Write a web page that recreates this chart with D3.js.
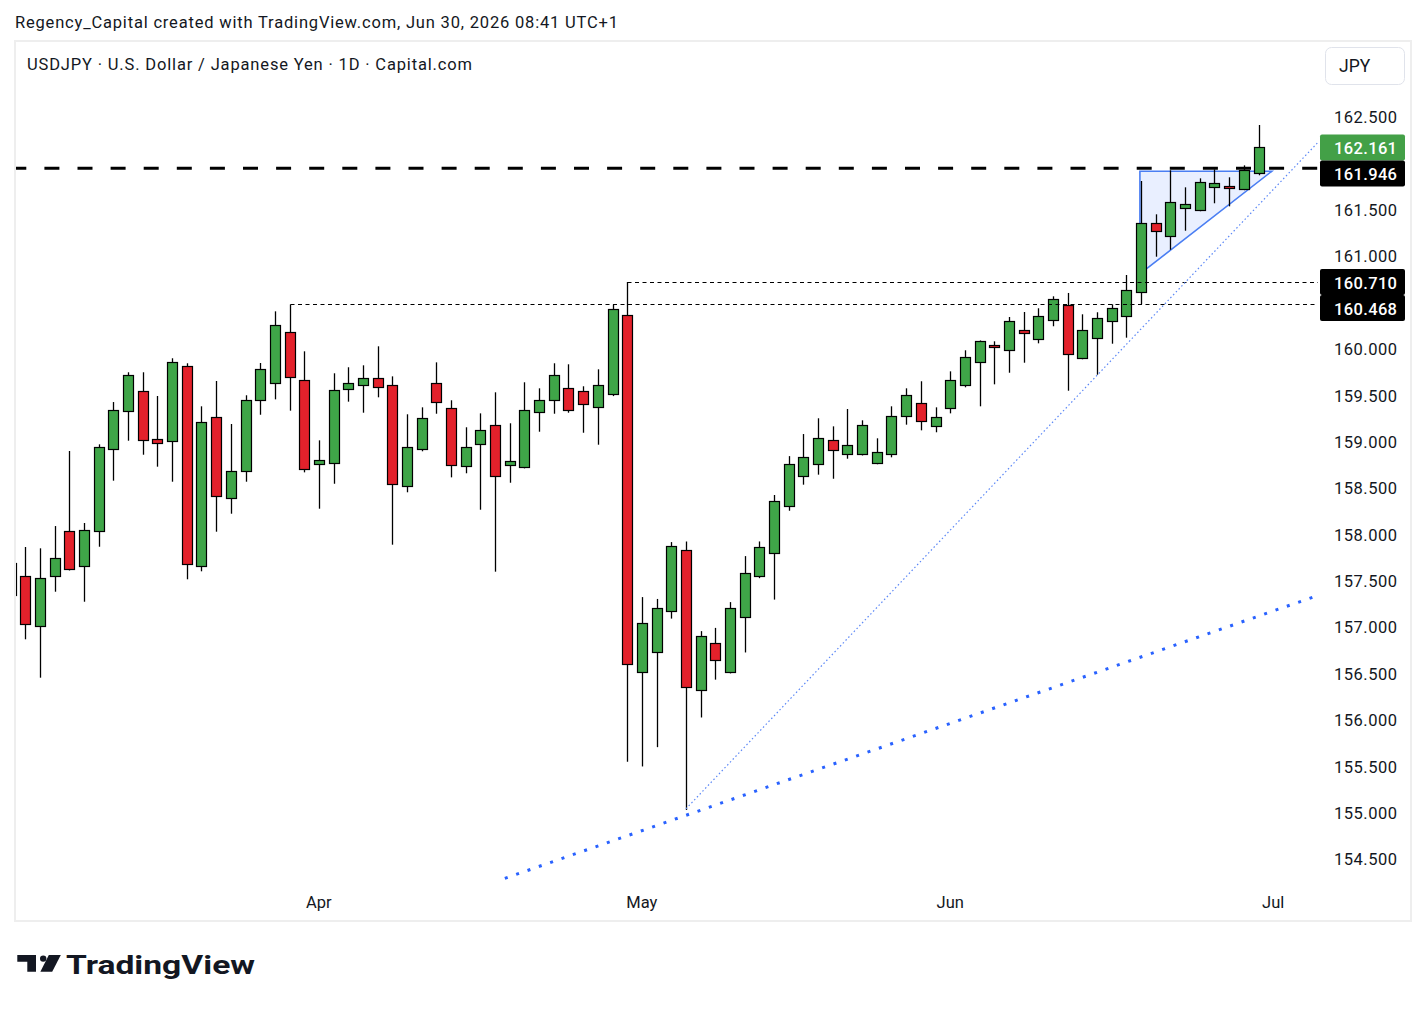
<!DOCTYPE html>
<html><head><meta charset="utf-8">
<script src="https://cdn.jsdelivr.net/npm/d3@7"></script>
<style>body{margin:0;background:#fff}svg{display:block;font-family:Roboto,"Noto Sans",sans-serif}</style>
</head><body><svg id="c" width="1427" height="1012"></svg>
<script>
// ---- data (USDJPY daily, Mar 3 – Jun 30 2026) ----
const openP  = [157.34,157.537,156.998,157.537,158.022,157.645,158.022,158.906,159.316,159.532,159.014,158.993,159.801,157.645,159.251,158.378,158.669,159.435,159.618,160.168,159.650,
  158.745,158.755,159.553,159.596,159.672,159.596,158.507,158.906,159.618,159.348,158.723,158.960,159.165,158.734,158.712,159.305,159.435,159.564,159.532,159.359,159.499,160.350,
  156.504,156.716,157.159,157.816,156.307,156.816,156.504,157.097,157.536,157.786,158.298,158.615,158.745,159.003,158.852,158.852,158.755,158.852,159.262,159.402,159.154,
  159.348,159.596,159.844,160.031,159.974,160.189,160.092,160.297,160.459,159.888,160.103,160.286,160.340,160.599,161.343,161.203,161.505,161.483,161.731,161.742,161.710,161.882];
const highP  = [157.70,157.853,157.839,158.079,158.888,158.112,158.960,159.416,159.737,159.737,159.481,159.888,159.834,159.370,159.643,159.179,159.489,159.837,160.394,160.468,159.963,
  159.003,159.726,159.791,159.812,160.017,159.693,159.284,159.359,159.844,159.435,159.144,159.294,159.521,159.187,159.629,159.564,159.834,159.823,159.586,159.769,160.468,160.710,
  157.313,157.293,157.906,157.913,156.946,156.981,157.259,157.755,157.913,158.414,158.833,159.071,159.241,159.154,159.341,159.219,159.025,159.370,159.564,159.640,159.359,
  159.747,159.974,160.080,160.071,160.333,160.387,160.427,160.556,160.592,160.362,160.384,160.470,160.786,161.799,161.440,161.915,161.731,161.828,161.925,161.839,161.968,162.403];
const lowP   = [157.30,156.858,156.444,157.371,157.600,157.263,157.856,158.568,158.999,158.848,158.719,158.557,157.505,157.591,158.018,158.212,158.557,159.279,159.445,159.323,158.658,
  158.266,158.535,159.420,159.301,159.467,157.878,158.443,158.885,159.290,158.604,158.648,158.255,157.587,158.546,158.701,159.096,159.290,159.301,159.085,158.956,159.480,155.537,
  155.487,155.695,157.081,155.017,156.015,156.423,156.490,156.716,157.517,157.286,158.244,158.525,158.633,158.589,158.805,158.840,158.745,158.820,159.172,159.111,159.090,
  159.294,159.575,159.370,159.607,159.732,159.840,160.049,160.233,159.538,159.877,159.711,160.045,160.110,160.470,160.983,161.058,161.263,161.473,161.559,161.526,161.700,161.861];
const closeP = [157.68,157.020,157.516,157.731,157.612,158.033,158.928,159.327,159.704,159.003,158.971,159.844,157.666,159.198,158.400,158.669,159.435,159.769,160.243,159.683,158.691,
  158.788,159.543,159.618,159.672,159.575,158.529,158.928,159.241,159.413,158.734,158.928,159.111,158.615,158.777,159.327,159.435,159.704,159.327,159.392,159.596,160.416,156.588,
  157.031,157.193,157.863,156.342,156.892,156.630,157.196,157.571,157.852,158.345,158.745,158.820,159.025,158.896,158.950,159.165,158.874,159.262,159.489,159.208,159.251,
  159.650,159.898,160.071,160.007,160.286,160.157,160.340,160.524,159.931,160.189,160.319,160.427,160.621,161.343,161.257,161.570,161.548,161.785,161.774,161.720,161.915,162.161];

const priceTicks = [154.5,155,155.5,156,156.5,157,157.5,158,158.5,159,159.5,160,160.5,161,161.5,162,162.5];
const monthTickDates = [new Date(2026,3,1), new Date(2026,4,1), new Date(2026,5,1), new Date(2026,6,1)];
const monthTickLabels = ["Apr","May","Jun","Jul"];

// price-scale markers
const markerValues = [162.161, 161.946, 160.710, 160.468];
const markerColors = ["#43a047", "#000000", "#000000", "#000000"];

// drawings (bar index, price)
const resistanceLevel = 161.946;
const rayLevels = [[19,160.468],[42,160.710]];
const thinTrend  = [[46,155.03],[85,161.54]];
const thickTrend = [[33.6,154.277],[46,154.96]];
const triangle = [[76.92,161.904],[76.92,160.797],[85.9,161.904]];

// ---- layout ----
const svg = d3.select("#c");
const dates = d3.timeDay.range(new Date(2026,2,3), new Date(2026,6,10)).filter(d => d.getDay()%6 !== 0);
const idxOf = dt => dates.findIndex(d => +d === +dt);
const bars = d3.range(openP.length);

const L = 15, R = 1318, T = 42, B = 882;
const x = d3.scaleLinear().domain([0.3, 89.05]).range([L, R]);
const y = d3.scaleLinear().domain([154.5, 162.5]).range([858, 116]);

svg.append("rect").attr("width",1427).attr("height",1012).attr("fill","#fff");
svg.append("text").attr("x",15).attr("y",27.5).attr("font-size",16.5).attr("fill","#131722")
  .attr("textLength",603).attr("lengthAdjust","spacing")
  .text("Regency_Capital created with TradingView.com, Jun 30, 2026 08:41 UTC+1");
svg.append("rect").attr("x",15).attr("y",41).attr("width",1396).attr("height",880)
  .attr("fill","none").attr("stroke","#eeeeee").attr("stroke-width",2);

svg.append("defs").append("clipPath").attr("id","plot").append("rect")
  .attr("x",L+1).attr("y",T).attr("width",R-L-1).attr("height",B-T);
const plot = svg.append("g").attr("clip-path","url(#plot)");

const line = d3.line().x(d=>x(d[0])).y(d=>y(d[1]));
const extend = (p, toX) => { const s=(p[1][1]-p[0][1])/(p[1][0]-p[0][0]); return [p[0],[toX, p[0][1]+s*(toX-p[0][0])]]; };
const xMax = x.invert(R+2);

// triangle (behind candles)
plot.append("path").attr("d", line(triangle)+"Z")
  .attr("fill","rgba(41,98,255,0.1)").attr("stroke","#4a7ef3").attr("stroke-width",1.6).attr("stroke-linejoin","miter");

// candles
const up = i => closeP[i] >= openP[i];
const cx = i => Math.round(x(i));
plot.selectAll("line.wick").data(bars).join("line").attr("class","wick")
  .attr("x1", i=>cx(i)+0.5).attr("x2", i=>cx(i)+0.5)
  .attr("y1", i=>y(highP[i])).attr("y2", i=>y(lowP[i]))
  .attr("stroke","#000").attr("stroke-width",1.3);
plot.selectAll("rect.body").data(bars).join("rect").attr("class","body")
  .attr("x", i=>cx(i)-4.5).attr("width",10)
  .attr("y", i=>Math.round(y(Math.max(openP[i],closeP[i])))+0.5)
  .attr("height", i=>Math.max(2, Math.round(y(Math.min(openP[i],closeP[i])))-Math.round(y(Math.max(openP[i],closeP[i])))))
  .attr("fill", i=> up(i) ? "#3fa548" : "#e3212b")
  .attr("stroke","#000").attr("stroke-width",1.2);

// horizontal rays
plot.selectAll("line.ray").data(rayLevels).join("line").attr("class","ray")
  .attr("x1", d=>cx(d[0])+0.5).attr("x2", R).attr("y1", d=>Math.round(y(d[1]))+0.5).attr("y2", d=>Math.round(y(d[1]))+0.5)
  .attr("stroke","#000").attr("stroke-width",1).attr("stroke-dasharray","4 3.5");

// thick dashed resistance
plot.append("line").attr("x1",L).attr("x2",R).attr("y1",y(resistanceLevel)+0.8).attr("y2",y(resistanceLevel)+0.8)
  .attr("stroke","#000").attr("stroke-width",3).attr("stroke-dasharray","15 18.1").attr("stroke-dashoffset",3.7);

// trendlines
plot.append("path").attr("d", line(extend(thinTrend, xMax))).attr("fill","none")
  .attr("stroke","#5b87f6").attr("stroke-width",1.2).attr("stroke-dasharray","1.5 2.5");
plot.append("path").attr("d", line(extend(thickTrend, xMax))).attr("fill","none")
  .attr("stroke","#2962ff").attr("stroke-width",3).attr("stroke-dasharray","3 9").attr("stroke-dashoffset",-1);

// header
svg.append("text").attr("x",27).attr("y",70).attr("font-size",16.5).attr("fill","#131722")
  .attr("textLength",445).attr("lengthAdjust","spacing")
  .text("USDJPY · U.S. Dollar / Japanese Yen · 1D · Capital.com");
svg.append("rect").attr("x",1325.5).attr("y",47.5).attr("width",79).attr("height",37).attr("rx",6)
  .attr("fill","#fff").attr("stroke","#e0e3eb");
svg.append("text").attr("x",1339).attr("y",72).attr("font-size",17.5).attr("fill","#131722").text("JPY");

// price axis labels
const markerCenters = [];
markerValues.forEach((v,k) => {
  let c = y(v);
  if (k>0 && c < markerCenters[k-1] + 26 && c > markerCenters[k-1] - 26) c = markerCenters[k-1] + 26;
  markerCenters.push(c);
});
const fmt = d3.format(".3f");
svg.append("g").selectAll("text").data(priceTicks.filter(t => markerCenters.every(c => Math.abs(y(t)-c) > 22)))
  .join("text").attr("x",1334).attr("y", t=>y(t)+7.3)
  .attr("textLength",63).attr("lengthAdjust","spacing")
  .attr("font-size",16.5).attr("fill","#131722").text(t=>fmt(t));
const mk = svg.append("g").selectAll("g").data(markerValues.map((v,k)=>k)).join("g");
mk.append("rect").attr("x",1320).attr("width",85).attr("y",k=>markerCenters[k]-13).attr("height",26)
  .attr("rx",2).attr("fill",k=>markerColors[k]);
mk.append("text").attr("x",1334).attr("y",k=>markerCenters[k]+6.5)
  .attr("textLength",63).attr("lengthAdjust","spacing")
  .attr("font-size",16.5).attr("font-weight",500).attr("fill","#fff").text(k=>fmt(markerValues[k]));

// time axis
svg.append("g").selectAll("text").data(monthTickDates).join("text")
  .attr("x", d=>x(idxOf(d))).attr("y",908).attr("text-anchor","middle")
  .attr("font-size",16.5).attr("fill","#131722").text((d,k)=>monthTickLabels[k]);

// TradingView logo
const logo = svg.append("g").attr("fill","#131722");
logo.append("path").attr("d","M17.3,955 H36 V971.7 H27.3 V961.7 H17.3 Z");
logo.append("circle").attr("cx",43.2).attr("cy",958.6).attr("r",3.2);
logo.append("path").attr("d","M48.8,955 H60.8 L52.2,971.7 H40.4 Z");
logo.append("text").attr("x",66).attr("y",973.5).attr("font-size",26).attr("font-weight",700)
  .attr("textLength",189).attr("lengthAdjust","spacingAndGlyphs").text("TradingView");
</script></body></html>
